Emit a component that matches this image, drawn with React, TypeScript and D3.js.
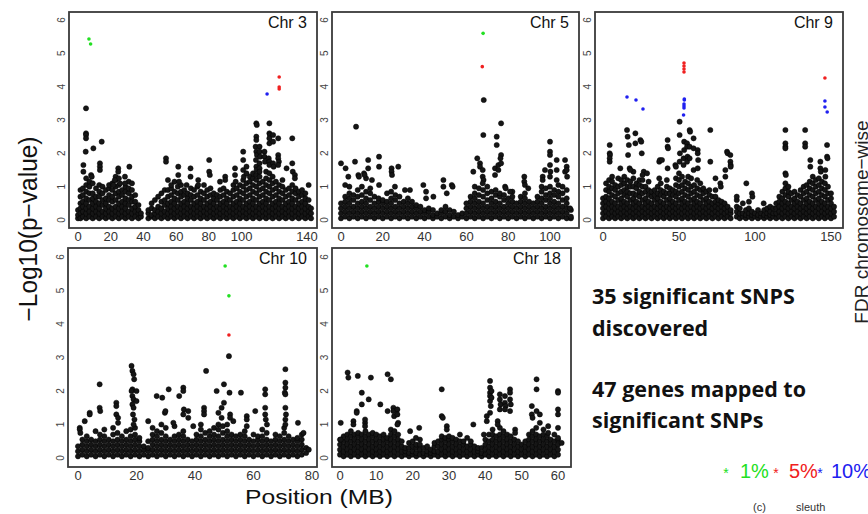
import React from 'react';
import * as d3 from 'd3';

type Col = [number, number[]];
type Pt = [number, number];

// ---- Chr 3 ----
const chr3Ticks = [0, 20, 40, 60, 80, 100, 140];
const chr3Band: Col[] = [
  [0, [0.05, 0.15, 0.3]], [1.5, [0.05, 0.2, 0.35, 0.5, 0.7, 0.9]], [3, [0.1, 0.25, 0.4, 0.55, 0.75, 0.95]],
  [5, [0.05, 0.2, 0.35, 0.5, 0.65, 0.85, 1.05, 1.25]], [7, [0.1, 0.25, 0.4, 0.6, 0.8, 1.0, 1.15]],
  [9, [0.05, 0.2, 0.35, 0.5, 0.65, 0.8, 1.1]], [11, [0.1, 0.25, 0.4, 0.55, 0.7, 0.95]],
  [13, [0.05, 0.2, 0.35, 0.5, 0.7, 0.85, 1.05]], [15, [0.1, 0.25, 0.45, 0.6, 0.8, 1.0]],
  [17, [0.05, 0.2, 0.35, 0.5, 0.65, 0.9]], [19, [0.1, 0.25, 0.4, 0.6, 0.75, 0.95, 1.05]],
  [21, [0.05, 0.2, 0.35, 0.55, 0.7, 0.9, 1.1]], [23, [0.1, 0.25, 0.4, 0.6, 0.8, 1.0, 1.2, 1.3]],
  [25, [0.05, 0.2, 0.35, 0.5, 0.7, 0.85, 1.05, 1.25]], [27, [0.1, 0.25, 0.4, 0.55, 0.75, 0.9]],
  [29, [0.05, 0.2, 0.35, 0.5, 0.65, 0.85, 1.0]], [31, [0.1, 0.25, 0.45, 0.6, 0.8, 0.95, 1.15]],
  [33, [0.05, 0.2, 0.35, 0.55, 0.7, 0.9, 1.1]], [35, [0.1, 0.25, 0.4, 0.55, 0.75]], [37, [0.05, 0.2, 0.3, 0.45]],
  [38.5, [0.1, 0.2]],
  [43, [0.05, 0.2, 0.3]], [45, [0.1, 0.15, 0.35, 0.5]], [47, [0.05, 0.2, 0.3, 0.6]], [49, [0.1, 0.25, 0.4, 0.7]],
  [51, [0.05, 0.2, 0.35, 0.55, 0.8]], [53, [0.1, 0.25, 0.45, 0.6, 0.9]],
  [55, [0.05, 0.2, 0.35, 0.5, 0.7, 0.9, 1.2]], [57, [0.1, 0.25, 0.4, 0.55, 0.75, 0.95, 1.05]],
  [59, [0.05, 0.2, 0.35, 0.5, 0.65, 0.85, 1.15]], [61, [0.1, 0.25, 0.4, 0.6, 0.8, 1.0]],
  [63, [0.05, 0.2, 0.35, 0.5, 0.7, 0.85, 1.05]], [65, [0.1, 0.25, 0.4, 0.55, 0.75, 0.9]],
  [67, [0.05, 0.2, 0.35, 0.5, 0.65, 0.8]], [69, [0.1, 0.25, 0.4, 0.6, 0.75, 0.95]],
  [71, [0.05, 0.2, 0.35, 0.5, 0.7, 0.9]], [73, [0.1, 0.25, 0.4, 0.55, 0.75, 1.0]],
  [75, [0.05, 0.2, 0.35, 0.5, 0.65, 0.85]], [77, [0.1, 0.25, 0.4, 0.6, 0.8, 1.05]],
  [79, [0.05, 0.2, 0.35, 0.5, 0.7, 0.9]], [81, [0.1, 0.25, 0.4, 0.55, 0.75, 0.95]],
  [83, [0.05, 0.2, 0.35, 0.5, 0.65, 0.8]], [85, [0.1, 0.25, 0.4, 0.6, 0.75]],
  [87, [0.05, 0.2, 0.35, 0.5, 0.7, 0.9]], [89, [0.1, 0.25, 0.4, 0.55, 0.75, 0.95]],
  [91, [0.05, 0.2, 0.35, 0.5, 0.65, 0.85]], [93, [0.1, 0.25, 0.4, 0.6, 0.8]],
  [95, [0.05, 0.2, 0.35, 0.5, 0.7, 0.9, 1.05]], [97, [0.1, 0.25, 0.4, 0.55, 0.75, 0.95]],
  [99, [0.05, 0.2, 0.35, 0.5, 0.65, 0.85, 1.05]], [101, [0.1, 0.25, 0.4, 0.6, 0.8, 1.0, 1.2]],
  [103, [0.05, 0.2, 0.35, 0.5, 0.7, 0.9, 1.1]], [105, [0.1, 0.25, 0.4, 0.55, 0.75, 0.95, 1.15, 1.3]],
  [107, [0.05, 0.2, 0.35, 0.5, 0.65, 0.85, 1.05, 1.25, 1.4]], [109, [0.1, 0.25, 0.4, 0.6, 0.8, 1.0, 1.2, 1.35]],
  [111, [0.05, 0.2, 0.35, 0.5, 0.7, 0.9, 1.1, 1.3]], [113, [0.1, 0.25, 0.4, 0.55, 0.75, 0.95, 1.15]],
  [115, [0.05, 0.2, 0.35, 0.5, 0.65, 0.85, 1.05, 1.25, 1.45]], [117, [0.1, 0.25, 0.4, 0.6, 0.8, 1.0, 1.2, 1.4]],
  [119, [0.05, 0.2, 0.35, 0.5, 0.7, 0.9, 1.1, 1.3]], [121, [0.1, 0.25, 0.4, 0.55, 0.75, 0.95, 1.15]],
  [123, [0.05, 0.2, 0.35, 0.5, 0.65, 0.85, 1.05]], [125, [0.1, 0.25, 0.4, 0.6, 0.8, 1.0, 1.2]],
  [127, [0.05, 0.2, 0.35, 0.5, 0.7, 0.9]], [129, [0.1, 0.25, 0.4, 0.55, 0.75, 0.95]],
  [131, [0.05, 0.2, 0.35, 0.5, 0.65, 0.85, 1.05]], [133, [0.1, 0.25, 0.4, 0.6, 0.8, 0.95]],
  [135, [0.05, 0.2, 0.35, 0.5, 0.7, 0.85]], [137, [0.1, 0.25, 0.4, 0.55, 0.75, 0.9]],
  [139, [0.05, 0.2, 0.35, 0.5, 0.65, 0.8]], [141, [0.1, 0.25, 0.4, 0.6]], [142.5, [0.05, 0.2, 0.35]],
];
const chr3Peaks: Pt[] = [
  [4.9, 3.35], [4.9, 2.6], [4.9, 2.55], [4.9, 2.45], [4.7, 2.05], [9.4, 2.15], [14.5, 2.35], [3.3, 1.65], [3.3, 1.45],
  [8, 1.35], [8.4, 1.3], [13.4, 1.7], [13.4, 1.6], [13.4, 1.5], [21.6, 1.05], [22.5, 1.2], [24.6, 1.55], [24.6, 1.45],
  [25.7, 1.1], [31.4, 1.6], [28.7, 1.1], [28.7, 1.3], [53.8, 1.85], [53.8, 1.75], [61.3, 1.6], [61.3, 1.35], [61.8, 1.15],
  [68.8, 1.55], [68.8, 1.3], [73.5, 1.2], [73.5, 1.05], [66.4, 1.05], [80.2, 1.8], [80.2, 1.45], [80.6, 1.35], [86.8, 1.15],
  [90, 1.3], [90, 1.2], [96, 1.55], [96, 1.35], [96.4, 1.15], [101, 2.05], [101, 1.8], [101, 1.5], [101.4, 1.3], [103, 1.6],
  [103, 1.4], [109, 2.9], [109.3, 2.85], [109, 2.5], [109, 2.4], [108.6, 2.2], [109, 2.05], [109.4, 1.95], [108.8, 1.8],
  [109, 1.6], [109.2, 1.5], [111, 2.2], [111, 2.05], [111.3, 1.9], [111, 1.7], [111, 1.55], [111, 1.45], [114, 2.05],
  [114, 1.9], [114.3, 1.75], [117, 2.9], [117, 2.6], [117.4, 2.55], [117, 2.45], [117, 2.3], [116.6, 1.85], [117, 1.75],
  [117, 1.65], [119.3, 2.55], [119.3, 2.35], [119.3, 1.7], [119.6, 1.6], [122.4, 2.45], [122.4, 1.95], [122.4, 1.85],
  [122.8, 1.75], [122.4, 1.65], [127.5, 1.55], [131, 2.45], [131, 1.7], [131.3, 1.45], [132.6, 1.35], [132.6, 1.25], [141, 1.05],
];
const chr3Fdr1: Pt[] = [[6.7, 5.43], [7.7, 5.28]];
const chr3Fdr5: Pt[] = [[123, 4.29], [123, 3.99], [123, 3.93]];
const chr3Fdr10: Pt[] = [[115.6, 3.78]];

// ---- Chr 5 ----
const chr5Ticks = [0, 20, 40, 60, 80, 100];
const chr5Band: Col[] = [
  [0, [0.05, 0.2, 0.35, 0.5]], [2, [0.1, 0.25, 0.4, 0.55, 0.7, 1.05]], [4, [0.05, 0.2, 0.35, 0.5, 0.65, 0.8, 1.0]],
  [6, [0.1, 0.25, 0.4, 0.6, 0.75]], [8, [0.05, 0.2, 0.35, 0.5, 0.7, 0.9]], [10, [0.1, 0.25, 0.4, 0.55, 0.75, 1.0]],
  [12, [0.05, 0.2, 0.35, 0.5, 0.65, 0.85, 1.25]], [14, [0.1, 0.25, 0.4, 0.6, 0.8, 0.95]],
  [16, [0.05, 0.2, 0.35, 0.5, 0.7]], [18, [0.1, 0.25, 0.4, 0.55, 0.65]], [20, [0.05, 0.2, 0.35, 0.5, 0.6]],
  [22, [0.1, 0.25, 0.4, 0.55, 0.8]], [24, [0.05, 0.2, 0.35, 0.5, 0.65, 0.85]], [26, [0.1, 0.25, 0.4, 0.6, 0.75]],
  [28, [0.05, 0.2, 0.35, 0.5, 0.7]], [30, [0.1, 0.25, 0.4, 0.55]], [32, [0.05, 0.2, 0.35, 0.5, 0.65]],
  [34, [0.1, 0.25, 0.4, 0.55]], [36, [0.05, 0.2, 0.35, 0.45]], [38, [0.1, 0.25, 0.4]], [40, [0.05, 0.2, 0.3]],
  [42, [0.1, 0.25, 0.35]], [44, [0.05, 0.15, 0.3]], [46, [0.1, 0.2]], [48, [0.05, 0.2, 0.3]], [50, [0.1, 0.25, 0.4]],
  [52, [0.05, 0.15, 0.3]], [54, [0.1, 0.25]], [56, [0.05, 0.15]], [58, [0.1, 0.2]], [60, [0.05, 0.2, 0.35, 0.5]],
  [62, [0.1, 0.25, 0.4, 0.55, 0.7]], [64, [0.05, 0.2, 0.35, 0.5, 0.65, 0.8, 1.0]],
  [66, [0.1, 0.25, 0.4, 0.55, 0.75, 0.95]], [68, [0.05, 0.2, 0.35, 0.5, 0.7, 0.9]],
  [70, [0.1, 0.25, 0.4, 0.6, 0.8, 1.0]], [72, [0.05, 0.2, 0.35, 0.5, 0.65, 0.85]],
  [74, [0.1, 0.25, 0.4, 0.55, 0.75, 0.9]], [76, [0.05, 0.2, 0.35, 0.5, 0.7, 0.8]],
  [78, [0.1, 0.25, 0.4, 0.6, 0.75]], [80, [0.05, 0.2, 0.35, 0.5, 0.65]], [82, [0.1, 0.25, 0.4, 0.55, 0.7, 0.85]],
  [84, [0.05, 0.2, 0.35, 0.5]], [86, [0.1, 0.25, 0.4, 0.55, 0.7]], [88, [0.05, 0.2, 0.35, 0.5, 0.65, 0.8]],
  [90, [0.1, 0.25, 0.4, 0.55]], [92, [0.05, 0.2, 0.35, 0.5]], [94, [0.1, 0.25, 0.4, 0.55, 0.7]],
  [96, [0.05, 0.2, 0.35, 0.5, 0.65, 0.85, 1.0]], [98, [0.1, 0.25, 0.4, 0.6, 0.75, 0.95]],
  [100, [0.05, 0.2, 0.35, 0.5, 0.65, 0.8, 1.0]], [102, [0.1, 0.25, 0.4, 0.55, 0.75, 0.9]],
  [104, [0.05, 0.2, 0.35, 0.5, 0.7, 0.85, 1.05]], [106, [0.1, 0.25, 0.4, 0.6, 0.8, 1.0]],
  [108, [0.05, 0.2, 0.35, 0.5, 0.65, 0.9]], [110, [0.05, 0.1, 0.3]],
];
const chr5Peaks: Pt[] = [
  [7.2, 2.8], [0, 1.7], [2.2, 1.55], [6.7, 1.75], [3.5, 1.3], [8.3, 1.35], [8.6, 1.3], [11, 1.4], [11.3, 1.35], [13, 1.8],
  [13, 1.55], [14.8, 1.2], [18.2, 1.9], [18.2, 1.6], [18.2, 1.05], [24.2, 1.55], [24.2, 1.45], [24.4, 1.35], [27.4, 1.6],
  [25.8, 1.0], [30.6, 0.9], [33, 0.9], [39.4, 1.05], [40.7, 0.85], [40.7, 0.65], [44.2, 0.7], [49, 1.2], [49, 1.0],
  [50.6, 0.8], [53, 1.05], [53.4, 1.0], [63.3, 1.45], [65.2, 1.85], [66.5, 1.7], [66.5, 1.6], [67.8, 1.5], [67.8, 1.3],
  [68.2, 1.2], [67.8, 1.1], [68.1, 2.55], [68.3, 3.6], [73.7, 1.55], [73.7, 1.35], [74.5, 2.5], [74.5, 2.25], [75.3, 1.65],
  [75.3, 1.5], [76.6, 2.9], [76.6, 1.95], [76.3, 1.85], [76.6, 1.7], [78.5, 1.0], [78.8, 0.95], [80.9, 0.85], [87.7, 1.3],
  [87.7, 1.15], [88, 1.05], [89.6, 0.95], [96.5, 1.3], [96.5, 1.2], [97.6, 1.5], [100, 2.35], [100, 2.05], [100, 1.95],
  [100, 1.65], [100.2, 1.45], [100, 1.3], [103.2, 1.8], [103.2, 1.5], [103.2, 1.2], [107.2, 1.45], [107.2, 1.8],
  [108, 1.6], [108, 1.5], [108.2, 1.3], [109.6, 0.35],
];
const chr5Fdr1: Pt[] = [[68, 5.6]];
const chr5Fdr5: Pt[] = [[67.6, 4.6]];
const chr5Fdr10: Pt[] = [];

// ---- Chr 9 ----
const chr9Ticks = [0, 50, 100, 150];
const chr9Band: Col[] = [
  [0, [0.05, 0.2, 0.35, 0.5, 0.65]], [2, [0.1, 0.25, 0.4, 0.55, 0.7, 0.9, 1.1]],
  [4, [0.05, 0.2, 0.35, 0.5, 0.65, 0.85, 1.0, 1.2]], [6, [0.1, 0.25, 0.4, 0.55, 0.75, 0.95, 1.15, 1.3]],
  [8, [0.05, 0.2, 0.35, 0.5, 0.7, 0.9, 1.05]], [10, [0.1, 0.25, 0.4, 0.6, 0.8, 1.0, 1.25]],
  [12, [0.05, 0.2, 0.35, 0.5, 0.65, 0.85, 1.05, 1.2]], [14, [0.1, 0.25, 0.4, 0.55, 0.75, 0.9, 1.1, 1.3]],
  [16, [0.05, 0.2, 0.35, 0.5, 0.7, 0.85, 1.0, 1.2]], [18, [0.1, 0.25, 0.4, 0.6, 0.8, 1.0, 1.15]],
  [20, [0.05, 0.2, 0.35, 0.5, 0.65, 0.8, 1.0, 1.25, 1.45]], [22, [0.1, 0.25, 0.4, 0.55, 0.75, 0.95, 1.1]],
  [24, [0.05, 0.2, 0.35, 0.5, 0.7, 0.85, 1.05, 1.2]], [26, [0.1, 0.25, 0.4, 0.6, 0.8, 1.0, 1.2]],
  [28, [0.05, 0.2, 0.35, 0.5, 0.65, 0.85, 1.0]], [30, [0.1, 0.25, 0.4, 0.55, 0.75, 0.9, 1.15]],
  [32, [0.05, 0.2, 0.35, 0.5, 0.7, 0.85]], [34, [0.1, 0.25, 0.4, 0.6, 0.75, 0.9]],
  [36, [0.05, 0.2, 0.35, 0.5, 0.65, 0.8, 1.0]], [38, [0.1, 0.25, 0.4, 0.55, 0.75, 0.9, 1.1]],
  [40, [0.05, 0.2, 0.35, 0.5, 0.7, 0.85]], [42, [0.1, 0.25, 0.4, 0.6, 0.8, 1.0, 1.2]],
  [44, [0.05, 0.2, 0.35, 0.5, 0.65, 0.8, 0.95]], [46, [0.1, 0.25, 0.4, 0.55, 0.75, 0.9]],
  [48, [0.05, 0.2, 0.35, 0.5, 0.7, 0.85, 1.05, 1.25]], [50, [0.1, 0.25, 0.4, 0.6, 0.8, 1.0, 1.2, 1.4]],
  [52, [0.05, 0.2, 0.35, 0.5, 0.65, 0.85, 1.05, 1.3]], [54, [0.1, 0.25, 0.4, 0.55, 0.75, 0.95, 1.15]],
  [56, [0.05, 0.2, 0.35, 0.5, 0.7, 0.9, 1.1, 1.3]], [58, [0.1, 0.25, 0.4, 0.6, 0.8, 1.0, 1.25]],
  [60, [0.05, 0.2, 0.35, 0.5, 0.65, 0.85, 1.05]], [62, [0.1, 0.25, 0.4, 0.55, 0.75, 0.95, 1.2]],
  [64, [0.05, 0.2, 0.35, 0.5, 0.7, 0.9, 1.1]], [66, [0.1, 0.25, 0.4, 0.6, 0.8, 0.95]],
  [68, [0.05, 0.2, 0.35, 0.5, 0.65, 0.85]], [70, [0.1, 0.25, 0.4, 0.55, 0.75, 0.9]],
  [72, [0.05, 0.2, 0.35, 0.5, 0.7]], [74, [0.1, 0.25, 0.4, 0.55, 0.7]], [76, [0.05, 0.2, 0.35, 0.5, 0.6]],
  [78, [0.1, 0.25, 0.4, 0.55]], [80, [0.05, 0.2, 0.35, 0.5]], [82, [0.1, 0.25, 0.4]], [84, [0.05, 0.2, 0.3]],
  [88, [0.1, 0.25, 0.4, 0.6, 0.7]], [90, [0.05, 0.2, 0.35]], [92, [0.1, 0.2, 0.5]], [94, [0.05, 0.15, 0.3]],
  [96, [0.1, 0.2, 0.35, 0.55]], [98, [0.05, 0.15, 0.25]], [100, [0.1, 0.2]], [102, [0.05, 0.15, 0.3]],
  [104, [0.1, 0.2]], [106, [0.05, 0.15, 0.3]], [108, [0.1, 0.2, 0.35]], [110, [0.05, 0.15, 0.25, 0.4]],
  [112, [0.1, 0.2, 0.35]], [114, [0.05, 0.2, 0.35, 0.5]], [116, [0.1, 0.25, 0.4, 0.55, 0.7]],
  [118, [0.05, 0.2, 0.35, 0.5, 0.65, 0.85]], [120, [0.1, 0.25, 0.4, 0.55, 0.75, 0.95, 1.1]],
  [122, [0.05, 0.2, 0.35, 0.5, 0.7, 0.85, 1.0]], [124, [0.1, 0.25, 0.4, 0.6, 0.8]],
  [126, [0.05, 0.2, 0.35, 0.5, 0.65, 0.85]], [128, [0.1, 0.25, 0.4, 0.55, 0.75]],
  [130, [0.05, 0.2, 0.35, 0.5, 0.7, 0.9]], [132, [0.1, 0.25, 0.4, 0.6, 0.8, 1.0]],
  [134, [0.05, 0.2, 0.35, 0.5, 0.65, 0.85, 1.05]], [136, [0.1, 0.25, 0.4, 0.55, 0.75, 0.95, 1.15]],
  [138, [0.05, 0.2, 0.35, 0.5, 0.7, 0.9, 1.1, 1.3]], [140, [0.1, 0.25, 0.4, 0.6, 0.8, 1.0, 1.2]],
  [142, [0.05, 0.2, 0.35, 0.5, 0.65, 0.85, 1.05, 1.25]], [144, [0.1, 0.25, 0.4, 0.55, 0.75, 0.95, 1.15]],
  [146, [0.05, 0.2, 0.35, 0.5, 0.7, 0.9, 1.1]], [148, [0.1, 0.25, 0.4, 0.6, 0.8, 1.0]],
  [150, [0.05, 0.2, 0.35, 0.5, 0.65, 0.8]], [152, [0.1, 0.25, 0.4]],
];
const chr9Peaks: Pt[] = [
  [4.4, 2.25], [4.4, 2.0], [4.6, 1.95], [4.4, 1.85], [4.4, 1.75], [11.4, 1.55], [15.8, 2.7], [16.2, 2.5], [17, 2.25],
  [16.5, 1.95], [17.5, 1.55], [18, 1.5], [21.3, 2.6], [21.3, 2.3], [24.6, 2.4], [25.2, 2.35], [25.5, 2.0], [26.8, 1.45],
  [26, 1.35], [29, 1.4], [37, 1.25], [37, 1.75], [37.4, 1.8], [38.8, 1.8], [42.5, 2.4], [42.5, 2.2], [42.8, 2.15],
  [42.5, 1.55], [47.6, 1.65], [48, 1.6], [50.4, 2.55], [50.4, 2.95], [50.6, 2.0], [50.4, 1.75], [53, 1.65], [53, 1.85],
  [53.4, 2.35], [53.4, 2.1], [55.3, 2.3], [55.3, 2.2], [55.6, 1.9], [55.3, 1.75], [57, 2.7], [57.3, 2.65], [57, 2.2],
  [57, 1.85], [59.6, 2.45], [59.6, 2.15], [59.6, 1.5], [62.3, 2.1], [62.3, 2.0], [62.6, 1.8], [62.3, 1.55], [70.6, 2.7],
  [70.6, 1.75], [74, 1.25], [74, 0.9], [77.2, 1.1], [77.5, 1.0], [80.5, 1.5], [80.5, 1.3], [81.6, 2.05], [82, 2.0],
  [83.8, 1.95], [83.8, 1.75], [84, 1.65], [84, 1.6], [94.3, 1.1], [98, 0.8], [98.3, 0.7], [105.7, 0.5], [120, 2.7],
  [120, 2.3], [120, 2.2], [120, 2.15], [120, 1.4], [120.3, 1.35], [133, 2.7], [133, 2.3], [133, 2.2], [136.4, 1.8],
  [136.4, 1.6], [143, 1.75], [143, 1.55], [143.3, 1.45], [146.3, 1.5], [146.3, 1.3], [147.4, 2.25], [147.4, 1.9], [147.7, 1.85],
];
const chr9Fdr1: Pt[] = [];
const chr9Fdr5: Pt[] = [[53.3, 4.71], [53.3, 4.62], [53.3, 4.53], [53.3, 4.44], [146, 4.26]];
const chr9Fdr10: Pt[] = [
  [15.8, 3.69], [21.7, 3.6], [26.3, 3.33], [53.5, 3.63], [53.5, 3.6], [53.3, 3.48], [53.3, 3.42], [53.3, 3.36],
  [53, 3.15], [146, 3.57], [146, 3.39], [147.5, 3.24],
];

// ---- Chr 10 ----
const chr10Ticks = [0, 20, 40, 60, 80];
const chr10Band: Col[] = [
  [0, [0.05, 0.2, 0.35]], [1.5, [0.1, 0.25, 0.4, 0.55]], [3, [0.05, 0.2, 0.35, 0.5, 0.65]], [4.5, [0.1, 0.25, 0.4, 0.55]],
  [6, [0.05, 0.2, 0.35, 0.5, 0.8]], [7.5, [0.1, 0.25, 0.4, 0.55, 0.7]], [9, [0.05, 0.2, 0.35, 0.5, 0.65, 0.85]],
  [10.5, [0.1, 0.25, 0.4, 0.55]], [12, [0.05, 0.2, 0.35, 0.5, 0.7, 0.9]], [13.5, [0.1, 0.25, 0.4, 0.55, 0.75]],
  [15, [0.05, 0.2, 0.35, 0.5, 0.65]], [16.5, [0.1, 0.25, 0.4, 0.55, 0.8]], [18, [0.05, 0.2, 0.35, 0.5, 0.65, 0.85]],
  [19.5, [0.1, 0.25, 0.4, 0.55, 0.7, 0.9]], [21, [0.05, 0.2, 0.35, 0.5, 0.6]], [22.5, [0.1, 0.25, 0.35]],
  [24, [0.05, 0.2, 0.3, 0.5]], [25.5, [0.1, 0.25, 0.4, 0.55, 0.7, 0.9]], [27, [0.05, 0.2, 0.35, 0.5, 0.65, 0.8]],
  [28.5, [0.1, 0.25, 0.4, 0.55, 0.75, 1.0]], [30, [0.05, 0.2, 0.35, 0.5, 0.65, 0.9]], [31.5, [0.1, 0.25, 0.4, 0.55]],
  [33, [0.05, 0.2, 0.35, 0.5, 0.65, 0.95]], [34.5, [0.1, 0.25, 0.4, 0.55, 0.7]], [36, [0.05, 0.2, 0.35, 0.5, 0.65, 0.8]],
  [37.5, [0.1, 0.25, 0.4, 0.55]], [39, [0.05, 0.2, 0.35, 0.5]], [40.5, [0.1, 0.25, 0.4, 0.55, 0.7]],
  [42, [0.05, 0.2, 0.35, 0.5, 0.65, 0.85, 1.0]], [43.5, [0.1, 0.25, 0.4, 0.55, 0.75]],
  [45, [0.05, 0.2, 0.35, 0.5, 0.65, 0.8]], [46.5, [0.1, 0.25, 0.4, 0.55, 0.7, 0.9]],
  [48, [0.05, 0.2, 0.35, 0.5, 0.65, 0.85, 1.0]], [49.5, [0.1, 0.25, 0.4, 0.55, 0.75, 0.95]],
  [51, [0.05, 0.2, 0.35, 0.5, 0.65, 0.8, 1.0]], [52.5, [0.1, 0.25, 0.4, 0.55, 0.7]], [54, [0.05, 0.2, 0.35, 0.5, 0.65]],
  [55.5, [0.1, 0.25, 0.4, 0.55, 0.7]], [57, [0.05, 0.2, 0.35, 0.5, 0.65, 0.8]], [58.5, [0.1, 0.25, 0.4, 0.55]],
  [60, [0.05, 0.2, 0.35, 0.5, 0.7]], [61.5, [0.1, 0.25, 0.4, 0.55, 0.65]], [63, [0.05, 0.2, 0.35, 0.5, 0.65, 0.85]],
  [64.5, [0.1, 0.25, 0.4, 0.55, 0.75]], [66, [0.05, 0.2, 0.35, 0.5]], [67.5, [0.1, 0.25, 0.4, 0.55, 0.7]],
  [69, [0.05, 0.2, 0.35, 0.5, 0.65]], [70.5, [0.1, 0.25, 0.4, 0.55, 0.75, 0.9]], [72, [0.05, 0.2, 0.35, 0.5, 0.65]],
  [73.5, [0.1, 0.25, 0.4, 0.55]], [75, [0.05, 0.2, 0.35, 0.5, 0.6]], [76.5, [0.1, 0.25, 0.4, 0.55, 0.7]], [78, [0.15, 0.3]],
];
const chr10Peaks: Pt[] = [
  [0.6, 0.9], [0.6, 0.85], [0.8, 0.75], [4, 1.35], [4, 1.3], [2.3, 1.1], [7.4, 2.2], [7.4, 1.5], [7.6, 1.4], [13.1, 1.65],
  [13.1, 1.55], [13.1, 1.3], [13.7, 1.05], [13.7, 1.2], [18.3, 2.75], [18.6, 2.6], [19, 2.5], [19.2, 2.35], [18.6, 2.05],
  [18.3, 2.0], [18.6, 1.85], [19, 1.75], [18.6, 1.6], [19, 1.5], [18.8, 1.3], [19.3, 1.15], [19, 1.0], [20, 2.0], [20, 1.7],
  [24, 1.1], [26.9, 1.85], [28.8, 1.8], [29.7, 1.35], [29.9, 1.4], [31, 2.05], [32.6, 1.05], [34.6, 1.85], [36, 2.1],
  [36, 2.0], [36.2, 1.45], [36, 1.3], [37.7, 1.4], [37.7, 1.2], [39.4, 0.95], [43.1, 1.5], [43.1, 1.4], [43.1, 1.3],
  [43.8, 2.6], [47.4, 2.0], [48, 1.35], [49.1, 1.5], [49.1, 1.2], [49.9, 1.65], [49.9, 2.2], [51.8, 1.95], [52, 1.3],
  [52, 1.2], [53.1, 1.1], [55.7, 1.95], [57.7, 1.25], [57.7, 1.15], [57.7, 0.95], [60.6, 1.4], [64, 2.05], [64, 1.9],
  [64, 1.5], [64, 1.3], [64.2, 1.15], [64.6, 1.0], [70.9, 2.65], [70.9, 2.25], [70.9, 2.1], [70.7, 1.95], [70.9, 1.9],
  [70.9, 1.5], [71.1, 1.3], [70.9, 1.15], [70.9, 1.0], [75.2, 1.05], [77.1, 0.75], [78.9, 0.25], [51.6, 3.04],
];
const chr10Fdr1: Pt[] = [[50.3, 5.73], [51.6, 4.84]];
const chr10Fdr5: Pt[] = [[51.6, 3.67]];
const chr10Fdr10: Pt[] = [];

// ---- Chr 18 ----
const chr18Ticks = [0, 10, 20, 30, 40, 50, 60];
const chr18Band: Col[] = [
  [0, [0.1, 0.25, 0.4, 0.55]], [1, [0.05, 0.2, 0.35, 0.5, 0.65]], [2, [0.1, 0.25, 0.4, 0.55, 0.7]],
  [3, [0.05, 0.2, 0.35, 0.5, 0.65, 0.8]], [4, [0.1, 0.25, 0.4, 0.55, 0.7]], [5, [0.05, 0.2, 0.35, 0.5, 0.65, 0.75]],
  [6, [0.1, 0.25, 0.4, 0.55, 0.7]], [7, [0.05, 0.2, 0.35, 0.5, 0.65, 0.8]], [8, [0.1, 0.25, 0.4, 0.55, 0.7]],
  [9, [0.05, 0.2, 0.35, 0.5, 0.65, 0.75]], [10, [0.1, 0.25, 0.4, 0.55, 0.7]], [11, [0.05, 0.2, 0.35, 0.5, 0.65]],
  [12, [0.1, 0.25, 0.4, 0.55, 0.7]], [13, [0.05, 0.2, 0.35, 0.5, 0.6]], [14, [0.1, 0.25, 0.4, 0.55, 0.7, 0.85]],
  [15, [0.05, 0.2, 0.35, 0.5, 0.65, 0.8]], [16, [0.1, 0.25, 0.4, 0.55, 0.7]], [17, [0.05, 0.2, 0.35, 0.5]],
  [18, [0.1, 0.2, 0.3]], [19, [0.05, 0.15, 0.3, 0.45]], [20, [0.1, 0.2, 0.35, 0.5]], [21, [0.05, 0.15, 0.3, 0.4]],
  [22, [0.1, 0.25, 0.4, 0.55]], [23, [0.05, 0.15, 0.3]], [24, [0.1, 0.2, 0.35]], [25, [0.05, 0.15, 0.25]],
  [26, [0.1, 0.2, 0.35, 0.45]], [27, [0.05, 0.2, 0.35, 0.5]], [28, [0.1, 0.25, 0.4, 0.55, 0.65]],
  [29, [0.05, 0.2, 0.35, 0.5, 0.6]], [30, [0.1, 0.25, 0.4, 0.55, 0.65]], [31, [0.05, 0.2, 0.35, 0.5, 0.6]],
  [32, [0.1, 0.25, 0.4, 0.55]], [33, [0.05, 0.2, 0.35, 0.5]], [34, [0.1, 0.25, 0.4, 0.5]], [35, [0.05, 0.2, 0.35]],
  [36, [0.1, 0.25, 0.4, 0.5]], [37, [0.05, 0.2, 0.35]], [38, [0.1, 0.2, 0.3]], [39, [0.05, 0.15, 0.3]],
  [40, [0.1, 0.25, 0.4, 0.55]], [41, [0.05, 0.2, 0.35, 0.5, 0.7]], [42, [0.1, 0.25, 0.4, 0.55, 0.7, 0.85]],
  [43, [0.05, 0.2, 0.35, 0.5, 0.65]], [44, [0.1, 0.25, 0.4, 0.55, 0.7, 0.9]], [45, [0.05, 0.2, 0.35, 0.5, 0.65, 0.8]],
  [46, [0.1, 0.25, 0.4, 0.55, 0.7]], [47, [0.05, 0.2, 0.35, 0.5, 0.65]], [48, [0.1, 0.25, 0.4, 0.55]],
  [49, [0.05, 0.2, 0.35, 0.5]], [50, [0.1, 0.25, 0.4]], [51, [0.05, 0.2, 0.35, 0.5]], [52, [0.1, 0.25, 0.4, 0.55, 0.7]],
  [53, [0.05, 0.2, 0.35, 0.5, 0.65, 0.8]], [54, [0.1, 0.25, 0.4, 0.55, 0.7, 0.9]], [55, [0.05, 0.2, 0.35, 0.5, 0.65]],
  [56, [0.1, 0.25, 0.4, 0.55, 0.7, 0.85]], [57, [0.05, 0.2, 0.35, 0.5, 0.65]], [58, [0.1, 0.25, 0.4, 0.55]],
  [59, [0.05, 0.2, 0.35, 0.5, 0.7]], [60, [0.1, 0.25, 0.4, 0.55, 0.6]],
];
const chr18Peaks: Pt[] = [
  [0.2, 1.05], [0.2, 0.55], [2.1, 2.55], [2.3, 2.4], [3.7, 1.1], [3.7, 1.0], [4.6, 1.4], [4.6, 1.35], [4.9, 2.45], [6, 1.95],
  [6, 1.6], [6.9, 1.05], [6.9, 0.95], [6.9, 1.15], [7.9, 1.75], [8.5, 2.4], [11.1, 1.6], [13.1, 2.5], [13.1, 1.4], [14, 2.35],
  [14.7, 1.5], [14.7, 1.4], [14.9, 1.25], [15.8, 1.45], [15.8, 1.3], [16, 1.05], [15.8, 1.0], [19.3, 0.8], [20.9, 0.6],
  [21.8, 0.9], [28, 2.05], [28, 1.25], [28.3, 1.2], [29.4, 0.95], [29.4, 0.85], [33, 0.7], [35, 0.6], [36.7, 1.0],
  [39.6, 0.7], [40.4, 1.1], [40.4, 1.25], [41.3, 2.3], [41.3, 2.1], [41.3, 1.95], [41.3, 1.85], [41.3, 1.7], [41.5, 1.55],
  [41.3, 1.35], [41.7, 2.0], [41.7, 1.8], [43.4, 1.1], [43.4, 1.0], [44, 1.9], [44, 1.75], [44.2, 1.6], [44, 1.45],
  [45.4, 1.85], [45.4, 1.65], [45.6, 1.55], [45.4, 1.45], [46.8, 2.05], [46.8, 1.95], [46.8, 1.75], [47, 1.6], [46.8, 1.4],
  [48.2, 0.85], [48.2, 0.75], [52.8, 1.55], [52.8, 1.3], [53, 1.2], [54.1, 2.35], [54.1, 2.05], [54.1, 1.4], [55, 1.3],
  [55, 1.05], [57.3, 0.95], [57.3, 0.75], [60, 2.0], [60, 1.95], [60, 1.45], [60, 1.3], [60, 0.9], [61, 0.45],
];
const chr18Fdr1: Pt[] = [[7.4, 5.73]];
const chr18Fdr5: Pt[] = [];
const chr18Fdr10: Pt[] = [];

const yTicks = [0, 1, 2, 3, 4, 5, 6];

// panel layout (pixel boxes and tick pixel anchors)
const panels = [
  { label: 'Chr 3', band: chr3Band, peaks: chr3Peaks, f1: chr3Fdr1, f5: chr3Fdr5, f10: chr3Fdr10, ticks: chr3Ticks,
    box: { l: 69, r: 317, t: 12, b: 228 }, xd: [0, 140], xr: [78, 307], yr: [220, 20] },
  { label: 'Chr 5', band: chr5Band, peaks: chr5Peaks, f1: chr5Fdr1, f5: chr5Fdr5, f10: chr5Fdr10, ticks: chr5Ticks,
    box: { l: 332, r: 579, t: 12, b: 228 }, xd: [0, 100], xr: [341, 550], yr: [220, 20] },
  { label: 'Chr 9', band: chr9Band, peaks: chr9Peaks, f1: chr9Fdr1, f5: chr9Fdr5, f10: chr9Fdr10, ticks: chr9Ticks,
    box: { l: 595, r: 843, t: 12, b: 228 }, xd: [0, 150], xr: [603, 831], yr: [220, 20] },
  { label: 'Chr 10', band: chr10Band, peaks: chr10Peaks, f1: chr10Fdr1, f5: chr10Fdr5, f10: chr10Fdr10, ticks: chr10Ticks,
    box: { l: 68, r: 317, t: 248, b: 467 }, xd: [0, 80], xr: [78, 312], yr: [458, 257] },
  { label: 'Chr 18', band: chr18Band, peaks: chr18Peaks, f1: chr18Fdr1, f5: chr18Fdr5, f10: chr18Fdr10, ticks: chr18Ticks,
    box: { l: 332, r: 571, t: 248, b: 467 }, xd: [0, 60], xr: [340, 558], yr: [458, 257] },
];

const GREEN = '#22e022';
const RED = '#f02020';
const BLUE = '#2020f0';
const AXIS_FONT = '"Liberation Sans", Arial, Helvetica, sans-serif';

function Panel({ p }: { p: (typeof panels)[number] }) {
  const x = d3.scaleLinear().domain(p.xd).range(p.xr);
  const y = d3.scaleLinear().domain([0, 6]).range(p.yr);
  const blacks: Pt[] = p.band.flatMap(([pos, vals]) => vals.map((v) => [pos, v] as Pt)).concat(p.peaks);
  const { l, r, t, b } = p.box;
  return (
    <g>
      {blacks.map((d, i) => (
        <circle key={'k' + i} cx={x(d[0])} cy={y(d[1])} r={2.6} fill="#161616" stroke="#000" strokeWidth={0.5} />
      ))}
      {p.f10.map((d, i) => <circle key={'b' + i} cx={x(d[0])} cy={y(d[1])} r={1.8} fill={BLUE} />)}
      {p.f5.map((d, i) => <circle key={'r' + i} cx={x(d[0])} cy={y(d[1])} r={1.8} fill={RED} />)}
      {p.f1.map((d, i) => <circle key={'g' + i} cx={x(d[0])} cy={y(d[1])} r={1.8} fill={GREEN} />)}
      <rect x={l} y={t} width={r - l} height={b - t} fill="none" stroke="#3a3a3a" strokeWidth={1.8} />
      <text x={r - 10} y={t + 16} textAnchor="end" fontSize={16} fontFamily={AXIS_FONT} fill="#111">{p.label}</text>
      {p.ticks.map((tk) => (
        <text key={'x' + tk} x={x(tk)} y={b + 13} textAnchor="middle" fontSize={13} fontFamily={AXIS_FONT} fill="#333">
          {tk}
        </text>
      ))}
      {yTicks.map((tk) => (
        <text key={'y' + tk} transform={`translate(${l - 4},${y(tk)}) rotate(-90)`} textAnchor="middle"
          fontSize={10} fontFamily={AXIS_FONT} fill="#444">
          {tk}
        </text>
      ))}
    </g>
  );
}

export default function App() {
  return (
    <svg width={868} height={514} style={{ position: 'absolute', left: 0, top: 0, background: '#fff' }}>
      <rect x={0} y={0} width={868} height={514} fill="#fff" />
      {panels.map((p) => <Panel key={p.label} p={p} />)}
      <text transform="translate(37,229) rotate(-90)" textAnchor="middle" fontSize={25} fontFamily={AXIS_FONT}
        fill="#111" textLength={185} lengthAdjust="spacingAndGlyphs">−Log10(p−value)</text>
      <text x={319} y={504} textAnchor="middle" fontSize={21} fontFamily={AXIS_FONT} fill="#111"
        textLength={148} lengthAdjust="spacingAndGlyphs">Position (MB)</text>
      <text transform="translate(868,222) rotate(-90)" textAnchor="middle" fontSize={19} fontFamily={AXIS_FONT}
        fill="#222">FDR chromosome−wise</text>
      <g fontFamily='"Open Sans", "Noto Sans", sans-serif' fontWeight={700} fontSize={21.5} fill="#111">
        <text x={592} y={304}>35 significant SNPS</text>
        <text x={592} y={336}>discovered</text>
        <text x={592} y={397}>47 genes mapped to</text>
        <text x={592} y={428}>significant SNPs</text>
      </g>
      <g fontFamily={AXIS_FONT} fontSize={20}>
        <text x={726} y={478} textAnchor="middle" fontSize={14} fill={GREEN}>*</text>
        <text x={740} y={478} fill={GREEN}>1%</text>
        <text x={776} y={478} textAnchor="middle" fontSize={14} fill={RED}>*</text>
        <text x={789} y={478} fill={RED}>5%</text>
        <text x={820} y={478} textAnchor="middle" fontSize={14} fill={BLUE}>*</text>
        <text x={831} y={478} fill={BLUE}>10%</text>
      </g>
      <text x={753} y={511} fontSize={11} fontFamily={AXIS_FONT} fill="#333">(c)</text>
      <text x={796} y={511} fontSize={11} fontFamily={AXIS_FONT} fill="#333">sleuth</text>
    </svg>
  );
}
